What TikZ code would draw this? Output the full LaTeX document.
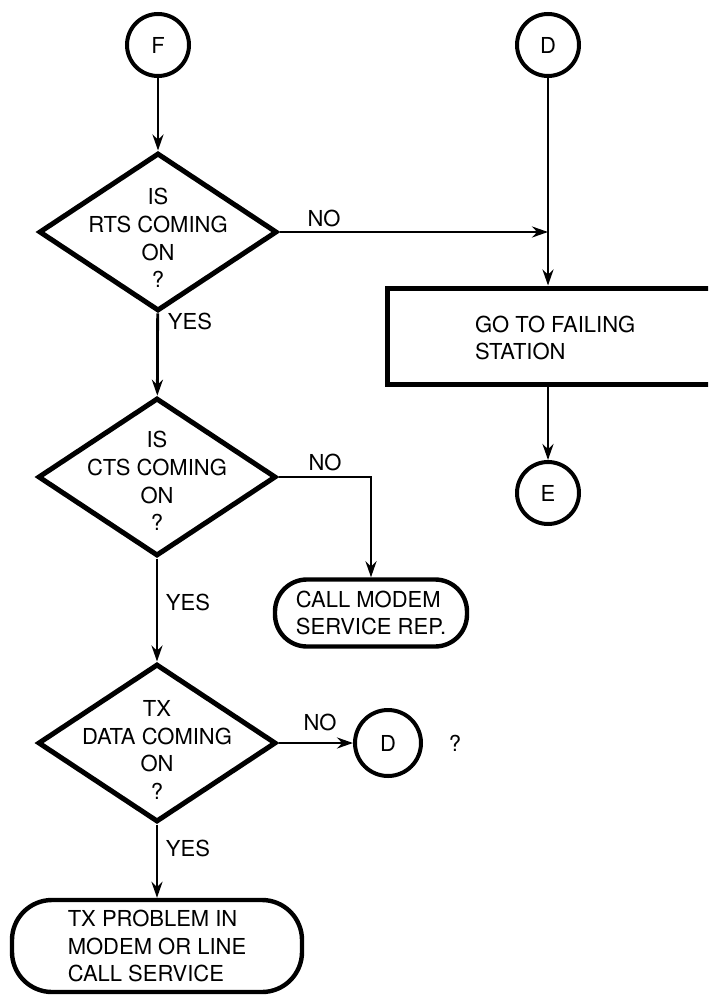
\documentclass[tikz,border=0pt]{standalone}
\usepackage{fontspec}
\setmainfont{TeX Gyre Heros}
\usetikzlibrary{shapes.geometric,arrows.meta}
\begin{document}
\begin{tikzpicture}[x=0.5pt,y=-0.5pt,
  every node/.style={font=\fontsize{11}{13.8}\selectfont},
  conn/.style={line width=1.4pt},
  arr/.style={conn,-{Stealth[length=8pt,width=5.5pt]}},
  term/.style={circle,draw,line width=2pt,minimum size=31pt,inner sep=0pt},
  dec/.style={diamond,draw,line width=2.5pt,minimum width=119pt,minimum height=79pt,inner sep=0pt},
  proc/.style={rectangle,draw,line width=2.5pt},
  endbox/.style={rectangle,rounded corners=16pt,draw,line width=2.2pt,align=left,inner sep=0pt},
  qtext/.style={align=center}]
\useasboundingbox (0,0) rectangle (708,995);
\clip (0,0) rectangle (708,995);

\node[term] (F) at (158,45) {F};
\node[term] (Dtop) at (548,45) {D};
\node[dec] (q1) at (158,232) {};
\node[qtext] (q1t) at (158,238) {IS\\RTS COMING\\ON\\?};
\node[proc, minimum width=164.5pt, minimum height=48pt] (go) at (551.5,336) {};
\node[anchor=west, align=left] (got) at (468,338) {GO TO FAILING\\STATION};
\node[term] (E) at (548,493) {E};
\node[dec] (q2) at (157,477) {};
\node[qtext] (q2t) at (157,481) {IS\\CTS COMING\\ON\\?};
\node[endbox, minimum width=96pt, minimum height=33.5pt] (call) at (371,613) {CALL MODEM\\SERVICE REP.};
\node[dec] (q3) at (157,743) {};
\node[qtext] (q3t) at (157,750) {TX\\DATA COMING\\ON\\?};
\node[term, minimum size=33pt] (Dlow) at (388,743) {D};
\node (qm) at (455,743) {?};
\node[endbox, minimum width=145pt, minimum height=46pt, rounded corners=20pt] (tx) at (157,946) {TX PROBLEM IN\\MODEM OR LINE\\CALL SERVICE};

\node (no1) at (324,218) {NO};
\node (no2) at (325,462) {NO};
\node (no3) at (320,722) {NO};
\node (yes1) at (190,321) {YES};
\node (yes2) at (188,602) {YES};
\node (yes3) at (188,848) {YES};

\draw[arr] (F) -- (q1);
\draw[arr] (Dtop) -- (Dtop |- go.north);
\draw[arr] (q1.east) -- (q1.east -| Dtop.south);
\draw[arr] (Dtop |- go.south) -- (E);
\draw[arr] (q1) -- (q2);
\draw[arr] (q2.east) -| (call.north);
\draw[arr] (q2) -- (q3);
\draw[arr] (q3.east) -- (Dlow);
\draw[arr] (q3) -- (tx);
\end{tikzpicture}
\end{document}
